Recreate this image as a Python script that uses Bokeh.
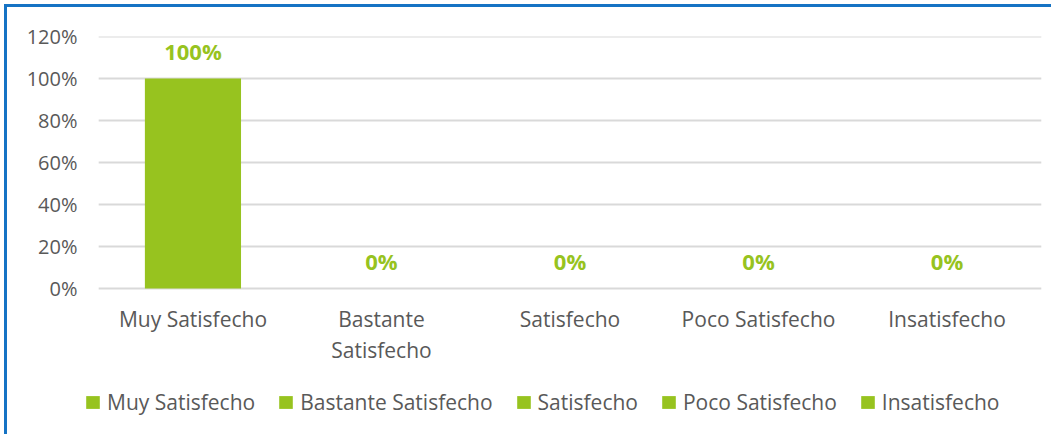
from bokeh.plotting import figure
from bokeh.models import FactorRange, FixedTicker, NumeralTickFormatter, Legend, LegendItem, ColumnDataSource, Range1d
from bokeh.core.properties import value
from bokeh.embed import file_html
from bokeh.resources import INLINE

categories = ["Muy Satisfecho", "Bastante Satisfecho", "Satisfecho", "Poco Satisfecho", "Insatisfecho"]
category_labels = ["Muy Satisfecho", "Bastante\nSatisfecho", "Satisfecho", "Poco Satisfecho", "Insatisfecho"]
values = [1.0, 0.0, 0.0, 0.0, 0.0]
labels = ["100%", "0%", "0%", "0%", "0%"]
y_ticks = [0, 0.2, 0.4, 0.6, 0.8, 1.0, 1.2]

GREEN = "#97c31f"
GREY = "#595959"
FONT = "Open Sans"

p = figure(x_range=FactorRange(factors=categories, range_padding=0.07, range_padding_units="absolute"),
           y_range=Range1d(-0.709, 1.2001),
           width=1047, height=430, output_backend="svg", toolbar_location=None,
           min_border_left=78, min_border_right=0, min_border_top=29, min_border_bottom=0)
p.styles = {"border-top": "3px solid #1673c4", "border-left": "3px solid #1673c4",
            "margin-top": "4px", "margin-left": "4px"}
p.outline_line_color = None
p.xgrid.grid_line_color = None
p.ygrid.grid_line_color = None

# horizontal gridlines spanning the category area only
n = len(categories)
gsrc = ColumnDataSource(dict(x0=[0] * len(y_ticks), x1=[n] * len(y_ticks), y=y_ticks))
p.segment(x0="x0", x1="x1", y0="y", y1="y", source=gsrc, line_color="#d9d9d9", line_width=2)

items = []
for c, v in zip(categories, values):
    src = ColumnDataSource(dict(x=[c], top=[v]))
    r = p.vbar(x="x", top="top", width=0.51, source=src, fill_color=GREEN, line_color=None)
    items.append(LegendItem(label=c, renderers=[r]))

tsrc = ColumnDataSource(dict(x=categories, y=values, t=labels))
p.text(x="x", y="y", text="t", source=tsrc, text_align="center", text_baseline="middle",
       y_offset=-28, text_color=GREEN, text_font=value(FONT), text_font_style="bold",
       text_font_size="22px")

csrc = ColumnDataSource(dict(x=categories, y=[0] * n, t=category_labels))
p.text(x="x", y="y", text="t", source=csrc, text_align="center", text_baseline="top",
       y_offset=16, text_color=GREY, text_font=value(FONT), text_font_size="21px",
       text_line_height=1.12)

p.xaxis.visible = False
p.yaxis.ticker = FixedTicker(ticks=y_ticks)
p.yaxis.formatter = NumeralTickFormatter(format="0%")
ax = p.yaxis[0]
ax.axis_line_color = None
ax.major_tick_line_color = None
ax.minor_tick_line_color = None
ax.major_tick_out = 0
ax.major_tick_in = 0
ax.minor_tick_out = 0
ax.major_label_text_font = FONT
ax.major_label_text_font_size = "20px"
ax.major_label_text_color = GREY
ax.major_label_standoff = 8

legend = Legend(items=items, orientation="horizontal", location=(-1, 21),
                padding=0, margin=0, spacing=22, label_standoff=6,
                glyph_width=17, glyph_height=16,
                label_text_font=FONT, label_text_font_size="21px", label_text_color=GREY,
                border_line_color=None, background_fill_alpha=0)
p.add_layout(legend, "center")

open("out.html", "w").write(file_html(p, INLINE))
